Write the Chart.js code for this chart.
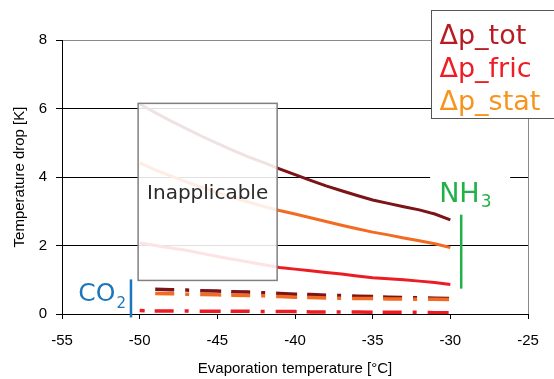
<!DOCTYPE html>
<html>
<head>
<meta charset="utf-8">
<script src="https://cdn.jsdelivr.net/npm/chart.js@4/dist/chart.umd.min.js"></script>
<style>
  html, body { margin: 0; padding: 0; background: #ffffff; }
  canvas { display: block; }
</style>
</head>
<body>
<canvas id="chart" width="554" height="379"></canvas>
<script>
// Evaporation temperatures [°C]
const temps = [-50, -49, -48, -47, -46, -45, -44, -43, -42, -41, -40, -39, -38, -37, -36, -35, -34, -33, -32, -31, -30];

// NH3 temperature drop [K]
const nh3Tot  = [6.13, 5.88, 5.64, 5.41, 5.19, 4.98, 4.78, 4.59, 4.42, 4.24, 4.07, 3.90, 3.74, 3.60, 3.46, 3.33, 3.23, 3.13, 3.04, 2.92, 2.75];
const nh3Fric = [2.07, 2.00, 1.93, 1.86, 1.77, 1.68, 1.60, 1.52, 1.44, 1.36, 1.31, 1.26, 1.21, 1.17, 1.11, 1.06, 1.03, 1.00, 0.96, 0.92, 0.86];
const nh3Stat = [4.41, 4.21, 4.03, 3.86, 3.70, 3.55, 3.40, 3.27, 3.14, 3.02, 2.92, 2.81, 2.70, 2.59, 2.49, 2.39, 2.31, 2.22, 2.14, 2.05, 1.94];

// CO2 temperature drop [K]
const co2Tot  = [null, 0.72, 0.71, 0.70, 0.68, 0.67, 0.65, 0.64, 0.62, 0.60, 0.58, 0.57, 0.55, 0.54, 0.52, 0.51, 0.49, 0.48, 0.47, 0.46, 0.45];
const co2Fric = [0.10, 0.09, 0.09, 0.09, 0.08, 0.08, 0.08, 0.08, 0.07, 0.07, 0.07, 0.06, 0.06, 0.06, 0.06, 0.05, 0.05, 0.05, 0.05, 0.04, 0.04];
const co2Stat = [null, 0.60, 0.59, 0.58, 0.57, 0.56, 0.55, 0.54, 0.53, 0.51, 0.49, 0.48, 0.47, 0.46, 0.45, 0.45, 0.44, 0.44, 0.43, 0.43, 0.42];

// Axis ticks
const xTicks = [-55, -50, -45, -40, -35, -30, -25];
const yTicks = [0, 2, 4, 6, 8];

// Legend entries
const seriesNames = ['Δp_tot', 'Δp_fric', 'Δp_stat'];
const seriesTextColors = ['#b81c23', '#ee1d25', '#f7941d'];

const lineColors = { tot: '#7b1416', fric: '#ec1c24', stat: '#f26b21' };
const dashPattern = [19, 11, 4, 11, 21, 10];

const pts = arr => temps.map((t, i) => ({ x: t, y: arr[i] }));

function lineSet(label, values, color, width, dash, dashOffset) {
  return {
    label,
    data: pts(values),
    borderColor: color,
    backgroundColor: color,
    borderWidth: width,
    pointRadius: 0,
    tension: 0,
    fill: false,
    spanGaps: false,
    borderCapStyle: 'butt',
    borderDash: dash || [],
    borderDashOffset: dashOffset || 0
  };
}

const tickFont = { family: '"Liberation Sans", Arial, sans-serif', size: 15 };

// Overlays: inapplicable region, refrigerant labels and the legend box
const overlays = {
  id: 'overlays',
  afterDraw(chart) {
    const { ctx } = chart;
    const xs = chart.scales.x, ys = chart.scales.y;
    const px = v => xs.getPixelForValue(v);
    const py = v => ys.getPixelForValue(v);
    ctx.save();

    // Inapplicable region
    const bx0 = px(-50.1), bx1 = px(-41.15), by0 = py(6.15), by1 = py(0.98);
    ctx.fillStyle = 'rgba(255,255,255,0.88)';
    ctx.fillRect(bx0, by0, bx1 - bx0, by1 - by0);
    ctx.strokeStyle = '#808080';
    ctx.lineWidth = 1.5;
    ctx.strokeRect(bx0, by0, bx1 - bx0, by1 - by0);
    ctx.fillStyle = '#2a2a2a';
    ctx.font = '20px "DejaVu Sans", sans-serif';
    ctx.textAlign = 'center';
    ctx.textBaseline = 'alphabetic';
    ctx.fillText('Inapplicable', (bx0 + bx1) / 2, py(3.36));

    // NH3 label
    ctx.fillStyle = '#ffffff';
    ctx.fillRect(px(-31.3), py(4.3), px(-26.15) - px(-31.3), py(3.0) - py(4.3));
    const green = '#23b04b';
    ctx.fillStyle = green;
    ctx.textAlign = 'left';
    ctx.font = '27px "DejaVu Sans", sans-serif';
    const nx = px(-30.72), nb = py(3.27);
    ctx.fillText('NH', nx, nb);
    const nw = ctx.measureText('NH').width;
    ctx.font = '17px "DejaVu Sans", sans-serif';
    ctx.fillText('3', nx + nw + 1, nb + 5);
    ctx.strokeStyle = green;
    ctx.lineWidth = 2.5;
    ctx.beginPath();
    ctx.moveTo(px(-29.3), py(2.9));
    ctx.lineTo(px(-29.3), py(0.74));
    ctx.stroke();

    // CO2 label
    const blue = '#1d76bb';
    ctx.fillStyle = blue;
    ctx.font = '15px "DejaVu Sans", sans-serif';
    const subW = ctx.measureText('2').width;
    const cr = px(-50.88), cb = py(0.39);
    ctx.textAlign = 'right';
    ctx.fillText('2', cr, cb + 7);
    ctx.font = '25px "DejaVu Sans", sans-serif';
    ctx.fillText('CO', cr - subW - 1, cb);
    ctx.strokeStyle = blue;
    ctx.lineWidth = 2.5;
    ctx.beginPath();
    ctx.moveTo(px(-50.56), py(1.01));
    ctx.lineTo(px(-50.56), py(-0.1));
    ctx.stroke();

    // Legend box
    const lx = Math.round(px(-31.25)) + 0.5, ly = 10.5, lw = 140, lh = 108;
    ctx.fillStyle = '#ffffff';
    ctx.fillRect(lx, ly, lw, lh);
    ctx.strokeStyle = '#555555';
    ctx.lineWidth = 1;
    ctx.strokeRect(lx, ly, lw, lh);
    ctx.font = '27px "DejaVu Sans", sans-serif';
    ctx.textAlign = 'left';
    seriesNames.forEach((name, i) => {
      ctx.fillStyle = seriesTextColors[i];
      ctx.fillText(name, lx + 8, ly + 33 + i * 33);
    });

    ctx.restore();
  }
};

new Chart(document.getElementById('chart'), {
  type: 'line',
  data: {
    datasets: [
      lineSet('NH3 Δp_fric', nh3Fric, lineColors.fric, 3),
      lineSet('NH3 Δp_stat', nh3Stat, lineColors.stat, 3),
      lineSet('NH3 Δp_tot', nh3Tot, lineColors.tot, 3),
      lineSet('CO2 Δp_fric', co2Fric, lineColors.fric, 3.5, dashPattern, 61),
      lineSet('CO2 Δp_stat', co2Stat, lineColors.stat, 3.5, dashPattern, 0),
      lineSet('CO2 Δp_tot', co2Tot, lineColors.tot, 3.5, dashPattern, 0)
    ]
  },
  options: {
    responsive: false,
    animation: false,
    devicePixelRatio: 1,
    layout: { padding: { top: 40, right: 26, left: 0, bottom: 0 } },
    plugins: {
      legend: { display: false },
      tooltip: { enabled: false }
    },
    scales: {
      x: {
        type: 'linear',
        min: -55,
        max: -25,
        afterBuildTicks: s => { s.ticks = xTicks.map(v => ({ value: v })); },
        afterFit: s => { s.height = 65; },
        ticks: { font: tickFont, color: '#000', padding: 13, maxRotation: 0 },
        grid: {
          drawOnChartArea: true,
          color: c => (c.tick && c.tick.value === -25 ? '#8a8a8a' : 'rgba(0,0,0,0)'),
          tickColor: '#000',
          tickLength: 5,
          lineWidth: 1
        },
        border: { color: '#000', width: 1 },
        title: {
          display: true,
          text: 'Evaporation temperature [°C]',
          font: tickFont,
          color: '#000',
          padding: { top: 0, bottom: 1 }
        }
      },
      y: {
        type: 'linear',
        min: 0,
        max: 8,
        afterBuildTicks: s => { s.ticks = yTicks.map(v => ({ value: v })); },
        afterFit: s => { s.width = 62; },
        ticks: { font: tickFont, color: '#000', padding: 9 },
        grid: {
          color: c => (c.tick && c.tick.value === 8 ? '#8a8a8a' : '#000'),
          tickColor: '#000',
          tickLength: 6,
          lineWidth: 1
        },
        border: { color: '#000', width: 1 },
        title: {
          display: true,
          text: 'Temperature drop [K]',
          font: tickFont,
          color: '#000',
          padding: { top: 11, bottom: 0 }
        }
      }
    }
  },
  plugins: [overlays]
});
</script>
</body>
</html>
